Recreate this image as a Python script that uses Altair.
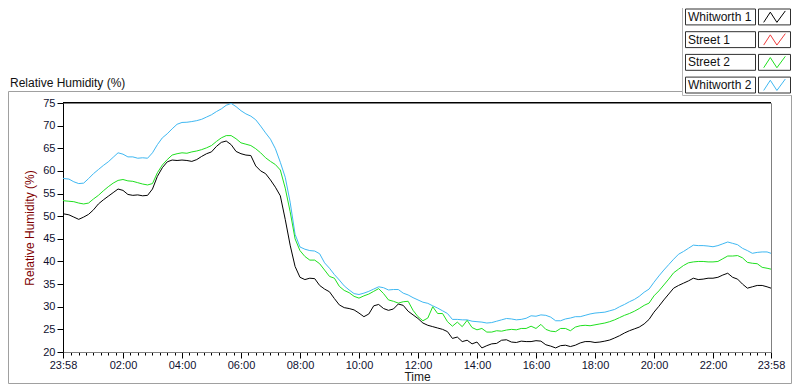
import json
import altair as alt
import pandas as pd

# ---- data (minutes after midnight; -2 == 23:58 of previous day) ----
minutes = [-2] + list(range(0, 1440, 10)) + [1438]

whitworth1 = [50.7,
    50.5, 50.3, 49.8, 49.3, 49.8, 50.4, 51.4, 52.7, 53.6, 54.4,
    55.2, 56.0, 55.7, 54.8, 54.6, 54.7, 54.5, 54.6, 56.0, 58.8,
    60.7, 62.0, 62.4, 62.3, 62.4, 62.3, 62.1, 62.5, 63.2, 63.8,
    64.2, 65.4, 66.3, 66.6, 65.8, 64.3, 63.8, 63.5, 63.4, 61.1,
    60.0, 59.4, 58.0, 56.4, 54.5, 49.3, 43.6, 38.9, 36.5, 36.0,
    36.3, 36.2, 34.7, 33.9, 33.3, 31.8, 30.4, 29.8, 29.6, 29.3,
    28.6, 27.8, 28.4, 30.2, 30.5, 29.6, 29.2, 29.5, 30.6, 30.3,
    29.0, 28.2, 27.4, 26.4, 25.9, 25.6, 25.3, 25.0, 24.5, 23.0,
    23.3, 22.3, 22.6, 21.8, 22.2, 20.9, 21.4, 21.8, 21.9, 22.6,
    22.7, 22.2, 22.1, 22.4, 22.3, 22.3, 22.5, 22.4, 21.6, 21.3,
    20.9, 21.4, 21.5, 21.2, 21.5, 22.0, 22.3, 22.3, 22.1, 22.2,
    22.4, 22.65, 23.1, 23.6, 24.2, 24.7, 25.1, 25.5, 26.2, 27.2,
    28.8, 30.1, 31.5, 32.8, 34.1, 34.7, 35.2, 35.7, 36.3, 36.0,
    36.1, 36.3, 36.3, 36.5, 37.0, 37.4, 36.5, 36.1, 35.0, 34.1,
    34.4, 34.7, 34.7, 34.4,
    34.1]

street2 = [53.5,
    53.4, 53.3, 53.2, 52.9, 52.7, 52.9, 53.8, 54.6, 55.6, 56.5,
    57.3, 57.9, 58.1, 57.8, 57.7, 57.4, 57.1, 56.9, 57.2, 59.6,
    61.3, 62.5, 63.5, 63.8, 64.0, 63.9, 64.2, 64.4, 64.7, 65.1,
    65.6, 66.5, 67.3, 67.8, 67.8, 67.1, 66.2, 65.9, 65.6, 64.9,
    64.0, 62.9, 62.1, 61.4, 60.2, 56.2, 51.0, 45.0, 42.4, 41.1,
    40.3, 40.3, 39.5, 38.1, 36.7, 36.3, 34.5, 33.6, 33.1, 32.3,
    31.9, 32.4, 32.8, 33.4, 34.0, 32.9, 31.5, 31.2, 30.8, 31.1,
    31.2, 29.2, 27.8, 26.9, 27.5, 30.0, 28.5, 28.5, 26.7, 25.7,
    26.6, 25.6, 27.0, 25.4, 24.9, 25.2, 24.4, 24.4, 24.7, 24.6,
    24.85, 25.0, 24.9, 25.2, 25.2, 25.7, 25.2, 26.1, 25.0, 24.6,
    24.5, 25.2, 25.2, 24.7, 25.5, 25.8, 25.9, 25.8, 26.0, 26.2,
    26.4, 26.7, 27.1, 27.6, 28.1, 28.5, 29.0, 29.6, 30.3, 30.8,
    32.4, 33.5, 34.8, 36.1, 37.5, 38.3, 39.1, 39.7, 39.9, 40.0,
    40.0, 39.9, 39.9, 40.0, 40.6, 41.2, 41.2, 41.3, 40.8, 39.8,
    39.6, 39.5, 38.7, 38.5,
    38.3]

whitworth2 = [58.4,
    58.3, 58.2, 57.6, 57.2, 57.3, 58.3, 59.4, 60.3, 61.2, 62.0,
    63.0, 64.0, 63.7, 63.1, 63.1, 62.8, 62.9, 62.8, 64.0, 65.8,
    67.3, 68.2, 69.3, 70.3, 70.7, 70.75, 70.9, 71.1, 71.4, 71.9,
    72.4, 73.1, 73.7, 74.5, 74.9, 74.2, 73.3, 72.6, 72.1, 71.3,
    69.9, 68.4, 67.0, 64.9, 61.9, 58.6, 53.1, 46.0, 43.2, 42.7,
    42.4, 42.3, 41.7, 39.7, 38.5, 37.1, 35.9, 34.6, 33.7, 32.9,
    32.7, 33.0, 33.4, 33.9, 34.4, 34.2, 33.7, 33.8, 33.8, 33.0,
    32.6, 32.0, 31.5, 31.0, 30.75, 30.2, 29.7, 29.1, 28.5, 27.2,
    27.2, 27.1, 27.1, 26.8, 26.7, 26.6, 26.4, 26.5, 26.8, 27.1,
    27.4, 27.3, 27.1, 27.2, 27.45, 28.0, 27.9, 28.2, 28.1, 27.7,
    26.9, 26.9, 27.3, 27.5, 27.8, 27.8, 28.1, 28.4, 28.6, 28.7,
    28.8, 29.1, 29.4, 30.0, 30.5, 31.1, 31.6, 32.3, 33.2, 33.9,
    35.4, 36.8, 38.1, 39.3, 40.5, 41.6, 42.2, 42.9, 43.6, 43.5,
    43.5, 43.4, 43.25, 43.5, 43.9, 44.3, 44.0, 43.7, 42.9, 42.4,
    41.8, 42.0, 42.1, 42.1,
    41.8]

series_names = ["Whitworth 1", "Street 1", "Street 2", "Whitworth 2"]
series_colors = ["#000000", "#f03c3c", "#1fe01f", "#3fb8f2"]

major_ticks = [-2, 120, 240, 360, 480, 600, 720, 840, 960, 1080, 1200, 1320, 1438]
tick_labels = ["23:58", "02:00", "04:00", "06:00", "08:00", "10:00", "12:00",
               "14:00", "16:00", "18:00", "20:00", "22:00", "23:58"]
minor_ticks = [m for m in range(15, 1440, 15) if m % 120 != 0]
y_ticks = [20, 25, 30, 35, 40, 45, 50, 55, 60, 65, 70, 75]

# ---- tables ----
rows = []
for name, vals in [("Whitworth 2", whitworth2), ("Street 2", street2), ("Whitworth 1", whitworth1)]:
    for m, v in zip(minutes, vals):
        rows.append({"minute": m, "rh": v, "series": name})
df = pd.DataFrame(rows)
legend_df = pd.DataFrame({"series": series_names})
one = pd.DataFrame({"t": ["Relative Humidity (%)"]})

FONT = "Liberation Sans"
W, H = 708, 249

color_scale = alt.Scale(domain=series_names, range=series_colors)

mj = json.dumps(major_ticks)
lb = json.dumps(tick_labels)
label_expr = f"indexof({mj}, datum.value) >= 0 ? {lb}[indexof({mj}, datum.value)] : ''"
tick_size = {"condition": {"test": f"indexof({mj}, datum.value) >= 0", "value": 6}, "value": 3}

lines = alt.Chart(df).mark_line(strokeWidth=1).encode(
    x=alt.X("minute:Q",
            scale=alt.Scale(domain=[-2, 1438], nice=False, zero=False),
            axis=alt.Axis(values=sorted(major_ticks + minor_ticks), labelExpr=label_expr,
                          tickSize=tick_size, tickColor="black", domainColor="#808080",
                          labelPadding=1, title="Time", titlePadding=1, grid=False,
                          labelFlush=False, labelOverlap=False)),
    y=alt.Y("rh:Q",
            scale=alt.Scale(domain=[20, 75], nice=False, zero=False),
            axis=alt.Axis(values=y_ticks, tickSize=6, tickColor="black", domainColor="black",
                          labelPadding=2, title="Relative Humidity (%)", titleColor="#800000",
                          titlePadding=6, grid=False)),
    color=alt.Color("series:N", scale=color_scale, legend=None),
)

frame = alt.Chart(one).mark_rect(filled=False, stroke="#a0a0a0", strokeWidth=1).encode(
    x=alt.value(-54.5), x2=alt.value(728.5), y=alt.value(-11.5), y2=alt.value(280.5))
panel = alt.Chart(one).mark_rect(fill="white", stroke="#b4b4b4", strokeWidth=1).encode(
    x=alt.value(619.5), x2=alt.value(730), y=alt.value(-100), y2=alt.value(-7.5))
toprule = alt.Chart(one).mark_rule(color="black", strokeWidth=1).encode(
    x=alt.value(0), x2=alt.value(W), y=alt.value(-0.5))
title_text = alt.Chart(one).mark_text(align="left", baseline="middle", font=FONT,
                                      fontSize=12, color="#111111").encode(
    x=alt.value(-53), y=alt.value(-20), text="t:N")

legend_y = alt.Y("series:N", axis=None,
                 scale=alt.Scale(type="band", domain=series_names, range=[-94, -10],
                                 paddingInner=0.3, paddingOuter=0))
lbox = alt.Chart(legend_df).mark_rect(fill="white", stroke="#303030", strokeWidth=1).encode(
    y=legend_y, x=alt.value(622.5), x2=alt.value(692.5))
sbox = alt.Chart(legend_df).mark_rect(fill="white", stroke="#303030", strokeWidth=1).encode(
    y=legend_y, x=alt.value(695.5), x2=alt.value(727.5))
ltext = alt.Chart(legend_df).mark_text(align="left", baseline="middle", font=FONT,
                                       fontSize=12, color="#111111").encode(
    y=legend_y, x=alt.value(625), text="series:N")
zig = "M-0.9,0.45L-0.35,-0.4L0.2,0.45L0.9,-0.5"
lsym = alt.Chart(legend_df).mark_point(shape=zig, filled=False, strokeWidth=1, size=576,
                                       opacity=1).encode(
    y=legend_y, x=alt.value(711.5),
    color=alt.Color("series:N", scale=color_scale, legend=None))

chart = alt.layer(frame, panel, lines, toprule, title_text, lbox, sbox, ltext, lsym).resolve_scale(
    y="independent"
).properties(
    width=W, height=H,
    padding={"left": 55, "top": 95, "right": 21, "bottom": 32},
    autosize=alt.AutoSizeParams(type="none"),
    background="white",
).configure_view(
    stroke="#808080", strokeWidth=1
).configure_axis(
    labelFont=FONT, labelFontSize=11, labelColor="#101030",
    titleFont=FONT, titleFontSize=12, titleFontWeight="normal", titleColor="#202020",
)

chart.save("out.html", embed_options={"renderer": "svg", "actions": False})
